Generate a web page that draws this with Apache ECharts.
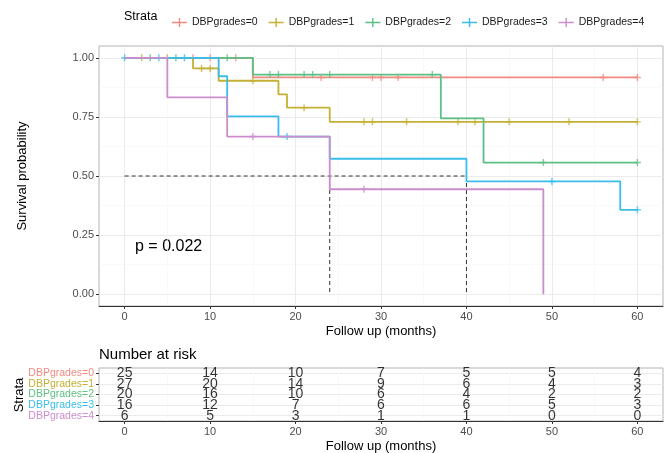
<!DOCTYPE html>
<html>
<head>
<meta charset="utf-8">
<script src="https://cdn.jsdelivr.net/npm/echarts@6/dist/echarts.min.js"></script>
<style>html,body{margin:0;padding:0;background:#fff}#c{width:670px;height:453px}</style>
</head>
<body>
<div id="c"></div>
<script>
// ---- data ----
const strata = ['DBPgrades=0', 'DBPgrades=1', 'DBPgrades=2', 'DBPgrades=3', 'DBPgrades=4'];
const colors = ['#F08A80', '#C4B035', '#5CBF84', '#3ABDEB', '#CC8DCC'];

// Kaplan-Meier step points (time in months, survival probability)
const time0 = [0, 15, 60];
const surv0 = [1, 0.917, 0.917];
const time1 = [0, 8, 11, 18, 19, 24, 60];
const surv1 = [1, 0.955, 0.903, 0.845, 0.789, 0.729, 0.729];
const time2 = [0, 15, 37, 42, 60];
const surv2 = [1, 0.929, 0.744, 0.557, 0.557];
const time3 = [0, 11, 12, 18, 24, 40, 58, 60];
const surv3 = [1, 0.922, 0.752, 0.667, 0.573, 0.477, 0.357, 0.357];
const time4 = [0, 5, 12, 24, 49];
const surv4 = [1, 0.833, 0.667, 0.444, 0];

// censoring times
const cens0 = [8, 10, 13, 23, 29, 30, 32, 56, 60];
const cens1 = [2, 5, 9, 10, 15, 21, 28, 29, 33, 39, 41, 45, 52, 60];
const cens2 = [3, 6, 12, 17, 18, 21, 22, 24, 36, 49, 60];
const cens3 = [0, 4, 7, 19, 50, 60];
const cens4 = [15, 28];

// median survival lines
const medianLevel = 0.5;
const medianTimes = [24, 40];
const pValueText = 'p = 0.022';

// number at risk table
const riskTimes = [0, 10, 20, 30, 40, 50, 60];
const risk0 = [25, 14, 10, 7, 5, 5, 4];
const risk1 = [27, 20, 14, 9, 6, 4, 3];
const risk2 = [20, 16, 10, 6, 4, 2, 2];
const risk3 = [16, 12, 7, 6, 6, 5, 3];
const risk4 = [6, 5, 3, 1, 1, 0, 0];

const xTicks = [0, 10, 20, 30, 40, 50, 60];
const xMinor = [5, 15, 25, 35, 45, 55];
const yTicks = [0, 0.25, 0.5, 0.75, 1];
const yMinor = [0.125, 0.375, 0.625, 0.875];

// ---- build ----
const times = [time0, time1, time2, time3, time4];
const survs = [surv0, surv1, surv2, surv3, surv4];
const censs = [cens0, cens1, cens2, cens3, cens4];
const risks = [risk0, risk1, risk2, risk3, risk4];

function survAt(i, t) {
  let s = survs[i][0];
  for (let k = 0; k < times[i].length; k++) if (times[i][k] <= t) s = survs[i][k];
  return s;
}

const FONT = 'Liberation Sans, Arial, sans-serif';
const plusPath = 'path://M-0.7,-3.5 H0.7 V3.5 H-0.7 Z M-3.5,-0.7 H3.5 V0.7 H-3.5 Z';
const legendIcon = 'path://M0,4.3 H15 V5.7 H0 Z M6.8,0.5 H8.2 V9.5 H6.8 Z';

const series = [];
series.push({
  type: 'line', xAxisIndex: 0, yAxisIndex: 0, z: 1, symbol: 'none', silent: true,
  data: [[0, medianLevel], [Math.max(...medianTimes), medianLevel]],
  lineStyle: { color: '#333', width: 1, type: [4, 3] }
});
medianTimes.forEach(m => {
  series.push({
    type: 'line', xAxisIndex: 0, yAxisIndex: 0, z: 1, symbol: 'none', silent: true,
    data: [[m, medianLevel], [m, 0]],
    lineStyle: { color: '#333', width: 1, type: [4, 3] }
  });
});
strata.forEach((s, i) => {
  series.push({
    name: s, type: 'line', step: 'end', xAxisIndex: 0, yAxisIndex: 0, z: 3 + i,
    symbol: 'none', silent: true,
    data: times[i].map((t, k) => [t, survs[i][k]]),
    lineStyle: { color: colors[i], width: 1.8 },
    itemStyle: { color: colors[i] }
  });
  series.push({
    name: s, type: 'scatter', xAxisIndex: 0, yAxisIndex: 0, z: 3 + i,
    symbol: plusPath, symbolSize: 7, silent: true,
    data: censs[i].map(t => [t, survAt(i, t)]),
    itemStyle: { color: colors[i] }
  });
  series.push({
    type: 'scatter', xAxisIndex: 2, yAxisIndex: 2, symbolSize: 0, silent: true,
    data: riskTimes.map((t, k) => [t, i, risks[i][k]]),
    label: { show: true, position: 'inside', formatter: p => String(p.value[2]),
      fontSize: 14, fontFamily: FONT, color: '#000' }
  });
});

const rich = {};
strata.forEach((s, i) => { rich['s' + i] = { color: colors[i], fontSize: 10.5, fontFamily: FONT }; });

const tickStyle = { show: true, length: 3, lineStyle: { color: '#333', width: 1 } };
const majorGrid = { show: true, lineStyle: { color: '#EBEBEB', width: 1 } };
const minorGrid = { show: true, lineStyle: { color: '#F5F5F5', width: 0.6 } };
const hiddenAxisParts = { axisLine: { show: false }, axisTick: { show: false }, axisLabel: { show: false } };
const labelStyle = { color: '#4D4D4D', fontSize: 11, fontFamily: FONT };

const option = {
  animation: false,
  backgroundColor: '#fff',
  legend: {
    data: strata.map((s, i) => ({ name: s, icon: legendIcon, itemStyle: { color: colors[i] } })),
    left: 167, top: 12, itemWidth: 15, itemHeight: 10, itemGap: 11,
    textStyle: { fontSize: 10.5, color: '#1a1a1a', fontFamily: FONT },
    selectedMode: false
  },
  grid: [
    { left: 99, top: 46, width: 564, height: 260, show: true, borderColor: '#B3B3B3', borderWidth: 1, backgroundColor: '#fff' },
    { left: 99, top: 368, width: 564, height: 53, show: true, borderColor: '#B3B3B3', borderWidth: 1, backgroundColor: '#fff' }
  ],
  xAxis: [
    { type: 'value', gridIndex: 0, min: -3, max: 63,
      axisLine: { show: true, onZero: false, lineStyle: { color: '#333', width: 1 } },
      axisTick: Object.assign({ customValues: xTicks }, tickStyle),
      axisLabel: Object.assign({ customValues: xTicks, margin: 5 }, labelStyle),
      splitLine: majorGrid },
    Object.assign({ type: 'value', gridIndex: 0, min: -3, max: 63, splitLine: minorGrid }, hiddenAxisParts,
      { axisTick: { show: false, customValues: xMinor } }),
    { type: 'value', gridIndex: 1, min: -3, max: 63,
      axisLine: { show: true, onZero: false, lineStyle: { color: '#333', width: 1 } },
      axisTick: Object.assign({ customValues: xTicks }, tickStyle),
      axisLabel: Object.assign({ customValues: xTicks, margin: 5 }, labelStyle),
      splitLine: majorGrid },
    Object.assign({ type: 'value', gridIndex: 1, min: -3, max: 63, splitLine: minorGrid }, hiddenAxisParts,
      { axisTick: { show: false, customValues: xMinor } })
  ],
  yAxis: [
    { type: 'value', gridIndex: 0, min: -0.05, max: 1.05,
      axisLine: { show: false, onZero: false },
      axisTick: Object.assign({ customValues: yTicks }, tickStyle),
      axisLabel: Object.assign({ customValues: yTicks, margin: 5, formatter: v => v.toFixed(2) }, labelStyle),
      splitLine: majorGrid },
    Object.assign({ type: 'value', gridIndex: 0, min: -0.05, max: 1.05, splitLine: minorGrid }, hiddenAxisParts,
      { axisTick: { show: false, customValues: yMinor } }),
    { type: 'category', gridIndex: 1, data: strata, inverse: true, boundaryGap: true,
      axisLine: { show: false, onZero: false },
      axisTick: Object.assign({ alignWithLabel: true, interval: 0 }, tickStyle),
      axisLabel: { interval: 0, margin: 5, formatter: (v, idx) => '{s' + idx + '|' + v + '}', rich: rich },
      splitLine: { show: false } },
    Object.assign({ type: 'value', gridIndex: 1, min: 0, max: 5, inverse: true, splitLine: majorGrid }, hiddenAxisParts,
      { axisTick: { show: false, customValues: [0.5, 1.5, 2.5, 3.5, 4.5] } })
  ],
  graphic: [
    { type: 'text', x: 124, y: 17, style: { text: 'Strata', font: '12.5px ' + FONT, fill: '#000', textAlign: 'left', textVerticalAlign: 'middle' } },
    { type: 'text', x: 22, y: 176, rotation: Math.PI / 2, style: { text: 'Survival probability', font: '13px ' + FONT, fill: '#000', textAlign: 'center', textVerticalAlign: 'middle' } },
    { type: 'text', x: 381, y: 331, style: { text: 'Follow up (months)', font: '13px ' + FONT, fill: '#000', textAlign: 'center', textVerticalAlign: 'middle' } },
    { type: 'text', x: 135, y: 247, style: { text: pValueText, font: '16px ' + FONT, fill: '#000', textAlign: 'left', textVerticalAlign: 'middle' } },
    { type: 'text', x: 99, y: 355, style: { text: 'Number at risk', font: '15px ' + FONT, fill: '#000', textAlign: 'left', textVerticalAlign: 'middle' } },
    { type: 'text', x: 19, y: 395, rotation: Math.PI / 2, style: { text: 'Strata', font: '13px ' + FONT, fill: '#000', textAlign: 'center', textVerticalAlign: 'middle' } },
    { type: 'text', x: 381, y: 446, style: { text: 'Follow up (months)', font: '13px ' + FONT, fill: '#000', textAlign: 'center', textVerticalAlign: 'middle' } }
  ],
  series: series
};

const chart = echarts.init(document.getElementById('c'), null, { renderer: 'canvas' });
chart.setOption(option);
</script>
</body>
</html>
